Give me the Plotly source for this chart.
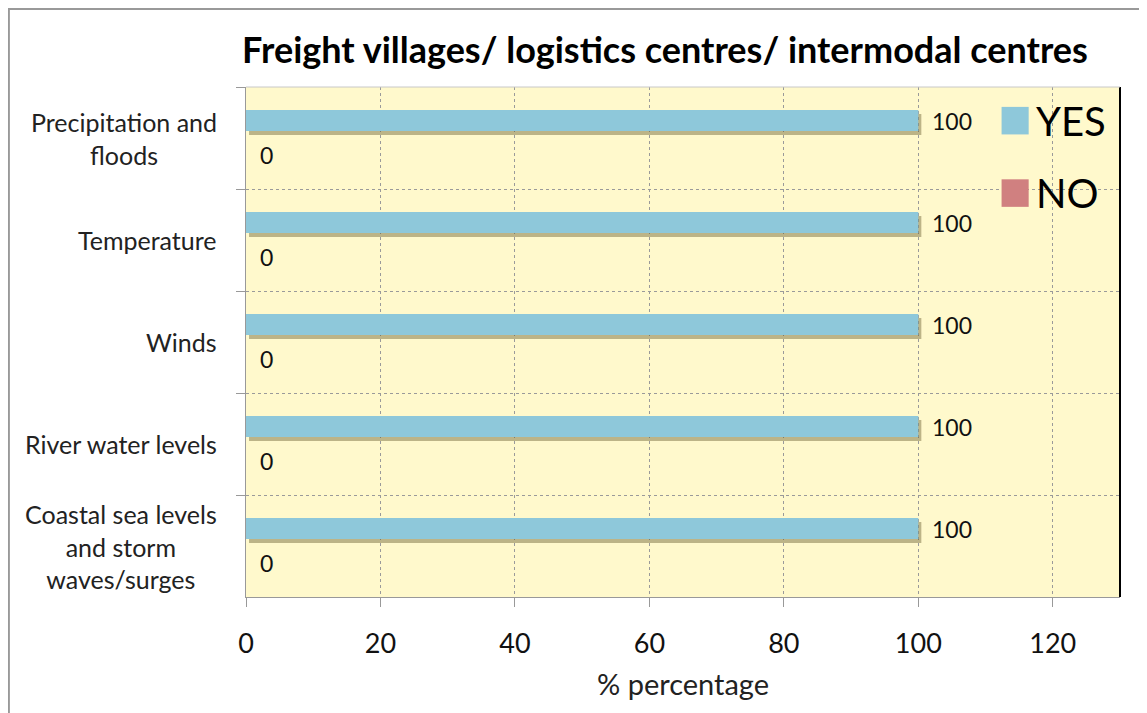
import plotly.graph_objects as go

# ---- data ----
categories = [
    "Precipitation and<br>floods",
    "Temperature",
    "Winds",
    "River water levels",
    "Coastal sea levels<br>and storm<br>waves/surges",
]
yes_values = [100, 100, 100, 100, 100]
no_values = [0, 0, 0, 0, 0]
series_names = ["YES", "NO"]
x_ticks = [0, 20, 40, 60, 80, 100, 120]
title_text = "Freight villages/ logistics centres/ intermodal centres"
x_title = "% percentage"

# ---- style ----
FONT = "Lato, 'Open Sans', sans-serif"
YES_COLOR = "#8EC8DA"
NO_COLOR = "#D08080"
SHADOW = "rgba(95,85,40,0.42)"
BG = "#FFF9CC"
W, H = 1139, 705  # page body has an 8px margin
BAR_W = 0.206
# (name, values, colour, bar offset within category band, label y-shift in px)
series = [
    (series_names[0], yes_values, YES_COLOR, -0.2745, 17),
    (series_names[1], no_values, NO_COLOR, 0.0685, -17),
]

fig = go.Figure()
# soft drop shadows under the bars
for name, vals, col, off, ysh in series:
    fig.add_trace(go.Bar(
        orientation="h", x=vals, y=categories, base=0.45,
        width=BAR_W, offset=off + 0.04,
        marker=dict(color=SHADOW, line=dict(width=0)),
        showlegend=False, hoverinfo="skip",
    ))
for name, vals, col, off, ysh in series:
    fig.add_trace(go.Bar(
        orientation="h", x=vals, y=categories, name=name,
        width=BAR_W, offset=off,
        marker=dict(color=col, line=dict(width=0)),
        showlegend=False, hoverinfo="x+name",
    ))
    for v, c in zip(vals, categories):
        fig.add_annotation(x=v, y=c, xref="x", yref="y", text=str(v), showarrow=False,
                           xanchor="left", yanchor="middle", xshift=12, yshift=ysh,
                           font=dict(family=FONT, size=23, color="#111"))

# category labels (right-aligned block, centered lines)
for c in categories:
    fig.add_annotation(x=-0.031, y=c, xref="paper", yref="y", text=c, showarrow=False,
                       xanchor="right", yanchor="middle", align="center",
                       font=dict(family=FONT, size=25, color="#222"))

# legend (manual, large keys)
leg = [(series_names[0], YES_COLOR, 0.934), (series_names[1], NO_COLOR, 0.792)]
for name, col, yc in leg:
    fig.add_shape(type="rect", xref="paper", yref="paper",
                  x0=0.8645, x1=0.8955, y0=yc - 0.027, y1=yc + 0.027,
                  fillcolor=col, line=dict(width=0))
    fig.add_annotation(x=0.902, y=yc, xref="paper", yref="paper", text=name, showarrow=False,
                       xanchor="left", yanchor="middle",
                       font=dict(family=FONT, size=40, color="#000"))

# frame and borders
fig.add_shape(type="rect", xref="paper", yref="paper", x0=-0.2713, x1=1.3, y0=-0.4, y1=1.153,
              line=dict(color="#999", width=2), fillcolor="rgba(0,0,0,0)", layer="above")
fig.add_shape(type="line", xref="paper", yref="paper", x0=1, x1=1, y0=0, y1=1,
              line=dict(color="#000", width=2), layer="above")
fig.add_shape(type="line", xref="paper", yref="paper", x0=0, x1=1, y0=1, y1=1,
              line=dict(color="#c8c8c8", width=1), layer="above")

fig.update_layout(
    width=W, height=H,
    margin=dict(l=238, r=27, t=79, b=116),
    paper_bgcolor="white", plot_bgcolor=BG,
    barmode="overlay",
    showlegend=False,
    title=dict(text="<b>" + title_text + "</b>", x=657 / W, xanchor="center",
               y=1 - 42 / H, yanchor="middle", yref="container",
               font=dict(family=FONT, size=36, color="#000")),
    font=dict(family=FONT),
)
fig.update_xaxes(
    range=[0, 130], tickvals=x_ticks, ticktext=[str(t) for t in x_ticks],
    showgrid=True, gridcolor="#9a9a9a", griddash="dot", gridwidth=1,
    ticks="outside", ticklen=9, tickcolor="#999", ticklabelstandoff=14,
    showline=True, linecolor="#999", linewidth=1, zeroline=False,
    tickfont=dict(family=FONT, size=27, color="#111"),
    title=dict(text=x_title, font=dict(family=FONT, size=29, color="#222"), standoff=16),
)
fig.update_yaxes(
    type="category", categoryorder="array", categoryarray=categories,
    autorange="reversed", showticklabels=False,
    tickson="boundaries", ticks="outside", ticklen=9, tickcolor="#999",
    showgrid=True, gridcolor="#9a9a9a", griddash="dot", gridwidth=1,
    showline=True, linecolor="#999", linewidth=1, zeroline=False,
)

fig.write_html("out.html")
